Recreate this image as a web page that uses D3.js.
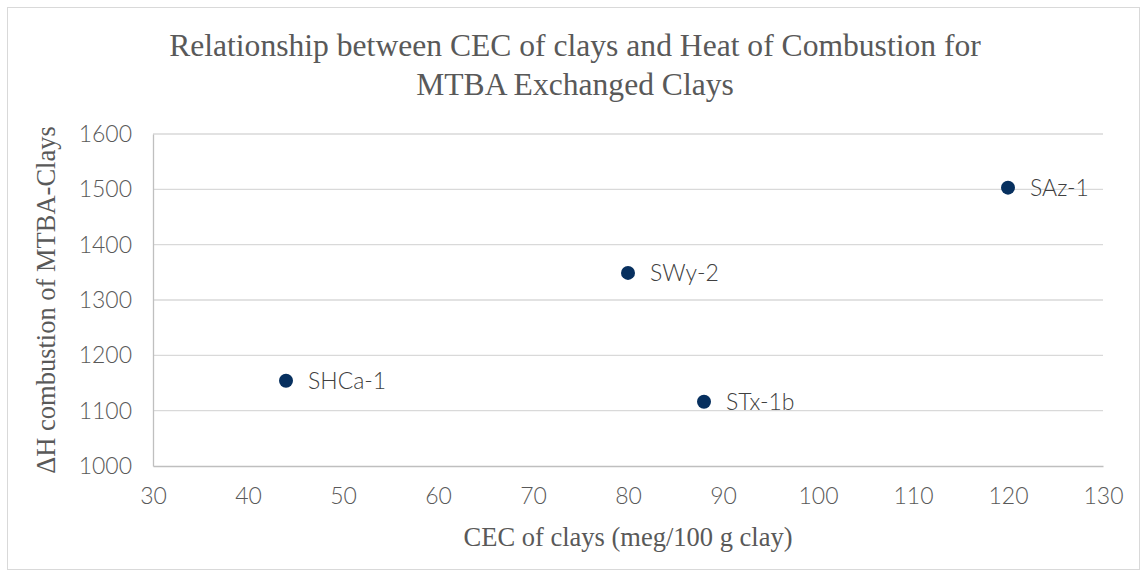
<!DOCTYPE html>
<html><head><meta charset="utf-8">
<script src="https://cdn.jsdelivr.net/npm/d3@7"></script>
<style>body{margin:0;background:#fff}</style>
</head><body>
<svg id="c" width="1148" height="577"></svg>
<script>
const names = ["SHCa-1","SWy-2","STx-1b","SAz-1"];
const cec = [44, 80, 88, 120];
const heat = [1154, 1349, 1116, 1503];
const xTicks = [30,40,50,60,70,80,90,100,110,120,130];
const yTicks = [1000,1100,1200,1300,1400,1500,1600];

const svg = d3.select("#c");
const L=153, R=1103, T=134, B=466;
const x = d3.scaleLinear().domain([30,130]).range([L,R]);
const y = d3.scaleLinear().domain([1000,1600]).range([B,T]);

svg.append("rect").attr("x",7.5).attr("y",7.5).attr("width",1132).attr("height",562)
  .attr("fill","#fff").attr("stroke","#d9d9d9");

// gridlines
svg.append("g").selectAll("line").data(yTicks.slice(1)).join("line")
  .attr("x1",L).attr("x2",R).attr("y1",d=>y(d)).attr("y2",d=>y(d))
  .attr("stroke","#d9d9d9").attr("stroke-width",1.3);

// axes
const ax = svg.append("g").attr("transform",`translate(0,${B})`)
  .call(d3.axisBottom(x).tickValues(xTicks).tickFormat(d3.format("d")).tickSize(0).tickPadding(22));
ax.select(".domain").attr("stroke","#bfbfbf").attr("stroke-width",1.3);
const ay = svg.append("g").attr("transform",`translate(${L},0)`)
  .call(d3.axisLeft(y).tickValues(yTicks).tickFormat(d3.format("d")).tickSize(0).tickPadding(21));
ay.select(".domain").attr("stroke","#bfbfbf").attr("stroke-width",1.3);
svg.selectAll(".tick text").attr("font-family","Lato, sans-serif").attr("font-weight",300)
  .attr("font-size",23).attr("fill","#595959");

// points
svg.append("g").selectAll("circle").data(names).join("circle")
  .attr("cx",(d,i)=>x(cec[i])).attr("cy",(d,i)=>y(heat[i])).attr("r",7)
  .attr("fill","#07305f");
svg.append("g").selectAll("text").data(names).join("text")
  .attr("x",(d,i)=>x(cec[i])+22).attr("y",(d,i)=>y(heat[i])).attr("dy","0.35em")
  .attr("font-family","Lato, sans-serif").attr("font-weight",300).attr("font-size",23).attr("fill","#404040")
  .text(d=>d);

// titles
const ttl = svg.append("text").attr("text-anchor","middle")
  .attr("font-family","'Liberation Serif', serif").attr("font-size",31.6).attr("fill","#595959");
ttl.append("tspan").attr("x",575).attr("y",56).text("Relationship between CEC of clays and Heat of Combustion for");
ttl.append("tspan").attr("x",575).attr("y",95).text("MTBA Exchanged Clays");

svg.append("text").attr("x",(L+R)/2).attr("y",546).attr("text-anchor","middle")
  .attr("font-family","'Liberation Serif', serif").attr("font-size",26.5).attr("fill","#595959")
  .text("CEC of clays (meg/100 g clay)");
svg.append("text").attr("transform",`translate(55,${(T+B)/2}) rotate(-90)`).attr("text-anchor","middle")
  .attr("font-family","'Liberation Serif', serif").attr("font-size",26.5).attr("fill","#595959")
  .text("ΔH combustion of MTBA-Clays");
</script>
</body></html>
